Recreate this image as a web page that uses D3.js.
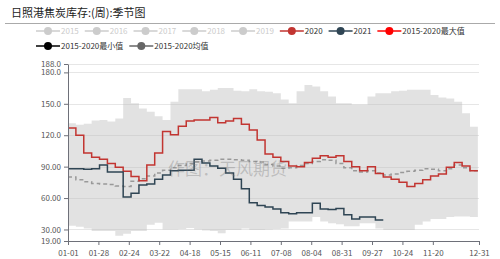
<!DOCTYPE html>
<html>
<head>
<meta charset="utf-8">
<script src="https://cdn.jsdelivr.net/npm/d3@7"></script>
<style>
  body { margin: 0; background: #fff; }
  svg text { font-family: "Noto Sans CJK SC", "Noto Sans", sans-serif; }
</style>
</head>
<body>
<div class="chart"></div>
<script>
const title = "日照港焦炭库存:(周):季节图"
const watermark = "作图：天风期货"

const legend_names = ["2015", "2016", "2017", "2018", "2019", "2020", "2021", "2015-2020最大值", "2015-2020最小值", "2015-2020均值"]
const legend_colors = ["#ccc", "#ccc", "#ccc", "#ccc", "#ccc", "#c23531", "#2f4554", "#ff0000", "#000000", "#666666"]
const legend_inactive = [true, true, true, true, true, false, false, false, false, false]

const x_labels = ["01-01", "01-28", "02-24", "03-22", "04-18", "05-15", "06-11", "07-08", "08-04", "08-31", "09-27", "10-24", "11-20", "12-31"]
const y_ticks = [19, 30, 60, 90, 120, 150, 180, 188]
const y_labels = ["19.00", "30.00", "60.00", "90.00", "120.0", "150.0", "180.0", "188.0"]

// weekly values, week 0 starts 01-01
const max_2015_2020 = [131.5, 130, 131, 134, 134.5, 133, 136, 155.5, 150.5, 145.5, 142.5, 138, 134.5, 152, 164, 164,
    164, 162, 163.5, 165, 165, 162.5, 162, 164, 162, 161.5, 160, 154, 150.5, 162, 168, 166.5,
    162, 157, 150.5, 150.5, 149, 149, 157, 160, 160, 162, 162.5, 163.5, 163.5, 163.5, 158.5, 156,
    155, 152, 141, 128]
const min_2015_2020 = [33.5, 32.5, 31, 28.5, 28.5, 28.5, 24, 26, 28.5, 28.5, 34.5, 36.5, 30, 30, 30.5, 31.5,
    30, 29, 28.5, 26.5, 29.5, 29.5, 31, 29.5, 29.5, 30, 30.5, 31, 37.5, 37.5, 37.5, 42,
    37.5, 36, 35, 33, 33, 36, 36, 31, 29.5, 29.5, 29.5, 29.5, 34.5, 37.5, 40, 40,
    42, 42.5, 42.5, 42]
const mean_2015_2020 = [80, 77.5, 75.5, 74, 73.5, 73, 71.5, 71, 76, 78.5, 81, 84, 86.5, 89, 91, 93,
    94.5, 95.5, 96, 97, 97, 96.5, 96, 95, 94.5, 92, 90.5, 88.5, 89, 91, 93, 95,
    96.5, 96, 93, 89, 86, 85, 86, 84, 82, 83, 84.5, 85.5, 86.5, 88, 87.5, 86,
    88, 91.5, 89, 86]
const values_2020 = [127, 120, 103, 99, 97, 93, 89.5, 85.5, 80.5, 76.5, 91.5, 103, 123.5, 120.5, 128.5, 133.5,
    134.5, 134.5, 137, 132, 133.5, 136, 130.5, 125, 115.5, 102, 99, 95, 90.5, 90, 94, 98,
    100.5, 99, 100.5, 95, 90, 86, 90, 83.5, 80, 78, 75, 71, 74, 77.5, 81, 83,
    89.5, 94, 90.5, 86]
const values_2021 = [88, 88, 87.5, 88, 91.5, 85, 85, 61, 64.5, 72.5, 73.5, 78, 82, 86, 86.5, 86.5,
    97, 93.5, 90.5, 88.5, 84, 78, 69, 55.5, 53, 51.5, 49.5, 46, 45, 46, 46, 55,
    49.5, 49, 50, 44, 40, 42, 42, 39]

const ctx = {
    W: 500,
    H: 259,
    left: 68,
    right: 479,
    top: 64,
    bottom: 241,
}

const parse = d3.timeParse("%Y-%m-%d")
const start = parse("2020-01-01")
const week_date = i => d3.timeDay.offset(start, 7 * i)

function draw() {
    const svg = d3.select(".chart").append("svg")
        .attr("width", ctx.W)
        .attr("height", ctx.H)

    const x = d3.scaleTime()
        .domain([start, parse("2020-12-31")])
        .range([ctx.left, ctx.right])
    const y = d3.scaleLinear()
        .domain([19, 188])
        .range([ctx.bottom, ctx.top])

    // title + separator
    svg.append("text")
        .attr("x", 11)
        .attr("y", 17)
        .attr("font-size", 11)
        .attr("fill", "#222")
        .text(title)
    svg.append("line")
        .attr("x1", 5).attr("x2", 495)
        .attr("y1", 23.5).attr("y2", 23.5)
        .attr("stroke", "#aaa")

    // legend (wraps after the max item)
    const legend = svg.append("g").attr("class", "legend")
    let lx = 36, ly = 31
    legend_names.forEach((name, i) => {
        if (i == 8) { lx = 36; ly = 46 }
        const item = legend.append("g")
        item.append("line")
            .attr("x1", lx).attr("x2", lx + 24)
            .attr("y1", ly).attr("y2", ly)
            .attr("stroke", legend_colors[i])
            .attr("stroke-width", 1.5)
        item.append("circle")
            .attr("cx", lx + 12).attr("cy", ly)
            .attr("r", 4)
            .attr("fill", legend_colors[i])
        const t = item.append("text")
            .attr("x", lx + 25)
            .attr("y", ly + 3)
            .attr("font-size", 8)
            .attr("fill", legend_inactive[i] ? "#ccc" : "#333")
            .text(name)
        lx += 25 + t.node().getComputedTextLength() + 6
    })

    svg.append("clipPath").attr("id", "plot-clip")
        .append("rect")
        .attr("x", ctx.left).attr("y", ctx.top)
        .attr("width", ctx.right - ctx.left).attr("height", ctx.bottom - ctx.top)

    // gridlines
    svg.append("g")
        .selectAll("line")
        .data(y_ticks.slice(1))
        .enter()
        .append("line")
        .attr("x1", ctx.left).attr("x2", ctx.right)
        .attr("y1", d => Math.round(y(d)) + 0.5).attr("y2", d => Math.round(y(d)) + 0.5)
        .attr("stroke", "#e6e6e6")

    const plot = svg.append("g").attr("clip-path", "url(#plot-clip)")

    // make step points and close the last week
    const steps = vals => {
        const pts = vals.map((v, i) => [week_date(i), v])
        pts.push([week_date(vals.length), vals[vals.length - 1]])
        return pts
    }

    const band = max_2015_2020.map((v, i) => [week_date(i), min_2015_2020[i], v])
    band.push([week_date(band.length), min_2015_2020[band.length - 1], max_2015_2020[band.length - 1]])

    plot.append("path")
        .datum(band)
        .attr("d", d3.area()
            .curve(d3.curveStepAfter)
            .x(d => x(d[0]))
            .y0(d => y(d[1]))
            .y1(d => y(d[2])))
        .attr("fill", "rgba(190,190,190,0.45)")

    const line = d3.line()
        .curve(d3.curveStepAfter)
        .x(d => x(d[0]))
        .y(d => y(d[1]))

    plot.append("path")
        .datum(steps(mean_2015_2020))
        .attr("d", line)
        .attr("fill", "none")
        .attr("stroke", "#999")
        .attr("stroke-width", 1.5)
        .attr("stroke-dasharray", "4,3")

    plot.append("path")
        .datum(steps(values_2020))
        .attr("d", line)
        .attr("fill", "none")
        .attr("stroke", "#c23531")
        .attr("stroke-width", 1.5)

    plot.append("path")
        .datum(steps(values_2021))
        .attr("d", line)
        .attr("fill", "none")
        .attr("stroke", "#2f4554")
        .attr("stroke-width", 1.5)

    // watermark
    svg.append("text")
        .attr("x", 168)
        .attr("y", 175)
        .attr("font-size", 17)
        .attr("fill", "rgba(120,120,120,0.35)")
        .text(watermark)

    // axes
    const x_ticks = x_labels.map(l => parse("2020-" + l))
    svg.append("g")
        .attr("transform", `translate(0,${ctx.bottom})`)
        .call(d3.axisBottom(x).tickValues(x_ticks).tickFormat(d3.timeFormat("%m-%d")).tickSize(4).tickSizeOuter(0))
        .call(g => g.select(".domain").attr("stroke", "#6e7079"))
        .call(g => g.selectAll(".tick line").attr("stroke", "#6e7079"))
        .call(g => g.selectAll("text").attr("fill", "#555").attr("font-size", 8).attr("font-family", null).attr("dy", "0.95em"))

    svg.append("g")
        .attr("transform", `translate(${ctx.left},0)`)
        .call(d3.axisLeft(y).tickValues(y_ticks).tickFormat((d, i) => y_labels[i]).tickSize(4).tickSizeOuter(0))
        .call(g => g.select(".domain").attr("stroke", "#6e7079"))
        .call(g => g.selectAll(".tick line").attr("stroke", "#6e7079"))
        .call(g => g.selectAll("text").attr("fill", "#555").attr("font-size", 8).attr("font-family", null))
}

draw()
</script>
</body>
</html>
